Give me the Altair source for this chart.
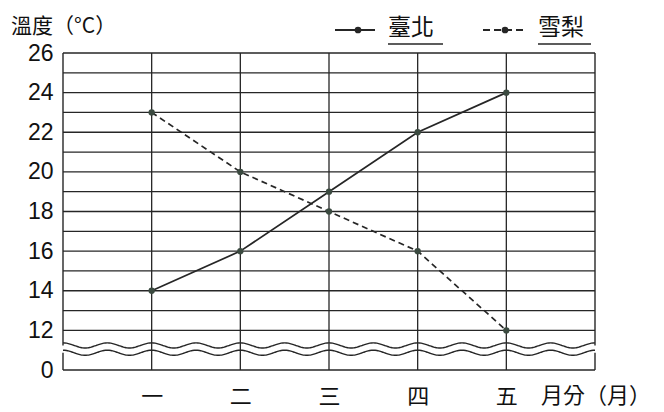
import altair as alt
import pandas as pd

# ---- data ----
months = ["一", "二", "三", "四", "五"]
month_pos = [1, 2, 3, 4, 5]
taipei = [14, 16, 19, 22, 24]
sydney = [23, 20, 18, 16, 12]
y_tick_values = [10, 12, 14, 16, 18, 20, 22, 24, 26]   # 10 is drawn as "0" (axis break)
grid_values = list(range(12, 27))

LINE = "#262626"
DOT = "#3b4a40"
FONT = "Liberation Sans"
CJK = "Noto Sans CJK TC"

W, H = 532, 317
xs = alt.Scale(domain=[0, 6], nice=False, zero=False)
ys = alt.Scale(domain=[10, 26], nice=False, zero=False)

x_axis = alt.Axis(
    values=month_pos, title=None, domain=False, ticks=False, tickSize=0, grid=False,
    labelExpr="['','一','二','三','四','五'][datum.value]",
    labelFont=CJK, labelFontSize=22, labelColor="#111", labelBaseline="middle",
    labelPadding=26,
)
y_axis = alt.Axis(
    values=y_tick_values, title=None, domain=False, ticks=False, tickSize=0, grid=False,
    labelExpr="datum.value == 10 ? '0' : datum.label",
    labelFont=FONT, labelFontSize=23, labelColor="#111", labelBaseline="middle",
    labelPadding=10,
)


def X(f):
    return alt.X(f, type="quantitative", scale=xs, axis=x_axis)


def Y(f):
    return alt.Y(f, type="quantitative", scale=ys, axis=y_axis)


# horizontal gridlines 12..26
hgrid_df = pd.DataFrame({"y": grid_values, "x0": 0, "x1": 6})
hgrid = alt.Chart(hgrid_df).mark_rule(color=LINE, strokeWidth=1.3).encode(
    x=X("x0"), x2="x1", y=Y("y")
)

# vertical month lines
vgrid_df = pd.DataFrame({"x": month_pos, "y0": 10, "y1": 26})
vgrid = alt.Chart(vgrid_df).mark_rule(color=LINE, strokeWidth=1.3).encode(
    x=X("x"), y=Y("y0"), y2="y1"
)

# frame (broken between the wavy lines)
frame_df = pd.DataFrame({
    "x": [0, 0, 6, 6],
    "y0": [11.24, 10, 11.24, 10],
    "y1": [26, 10.87, 26, 10.87],
})
frame = alt.Chart(frame_df).mark_rule(color=LINE, strokeWidth=1.4).encode(
    x=X("x"), y=Y("y0"), y2="y1"
)
bottom_df = pd.DataFrame({"y": [10], "x0": [0], "x1": [6]})
bottom = alt.Chart(bottom_df).mark_rule(color=LINE, strokeWidth=1.4).encode(
    x=X("x0"), x2="x1", y=Y("y")
)

# wavy break lines (decoration)
waves = (
    alt.Chart(alt.sequence(0, 6.001, 0.02, as_="t"))
    .transform_calculate(
        w1="11.24 + 0.13 * cos(4 * PI * datum.t)",
        w2="10.87 + 0.13 * cos(4 * PI * datum.t)",
    )
    .transform_fold(["w1", "w2"], as_=["k", "v"])
    .mark_line(color=LINE, strokeWidth=1.4, interpolate="monotone")
    .encode(x=X("t"), y=Y("v"), detail="k:N")
)

# series
df = pd.DataFrame({
    "m": month_pos * 2,
    "v": taipei + sydney,
    "s": ["臺北"] * 5 + ["雪梨"] * 5,
})
tp_line = alt.Chart(df).transform_filter("datum.s == '臺北'").mark_line(
    color=LINE, strokeWidth=1.7
).encode(x=X("m"), y=Y("v"))
sy_line = alt.Chart(df).transform_filter("datum.s == '雪梨'").mark_line(
    color=LINE, strokeWidth=1.7, strokeDash=[6, 4]
).encode(x=X("m"), y=Y("v"))
pts = alt.Chart(df).mark_circle(color=DOT, size=40, opacity=1).encode(
    x=X("m"), y=Y("v")
)

# legend (custom)
leg_lines_df = pd.DataFrame({"x0": [272, 420], "x1": [312, 464], "y": [-23, -23], "s": ["臺北", "雪梨"]})
leg_solid = alt.Chart(leg_lines_df).transform_filter("datum.s == '臺北'").mark_rule(
    color=LINE, strokeWidth=2
).encode(x=alt.X("x0:Q", scale=None), x2="x1:Q", y=alt.Y("y:Q", scale=None))
leg_dash = alt.Chart(leg_lines_df).transform_filter("datum.s == '雪梨'").mark_rule(
    color=LINE, strokeWidth=2, strokeDash=[7, 4]
).encode(x=alt.X("x0:Q", scale=None), x2="x1:Q", y=alt.Y("y:Q", scale=None))
leg_dot_df = pd.DataFrame({"x": [295, 442], "y": [-23, -23]})
leg_dots = alt.Chart(leg_dot_df).mark_circle(color=LINE, size=45, opacity=1).encode(
    x=alt.X("x:Q", scale=None), y=alt.Y("y:Q", scale=None)
)
leg_text_df = pd.DataFrame({"x": [325, 475], "y": [-25, -25], "t": ["臺北", "雪梨"]})
leg_text = alt.Chart(leg_text_df).mark_text(
    font=CJK, fontSize=23, align="left", baseline="middle", color="#111"
).encode(x=alt.X("x:Q", scale=None), y=alt.Y("y:Q", scale=None), text="t:N")
leg_ul_df = pd.DataFrame({"x0": [325, 475], "x1": [380, 528], "y": [-9, -9]})
leg_ul = alt.Chart(leg_ul_df).mark_rule(color=LINE, strokeWidth=1.4).encode(
    x=alt.X("x0:Q", scale=None), x2="x1:Q", y=alt.Y("y:Q", scale=None)
)

# titles
ytitle_df = pd.DataFrame({"x": [-52], "y": [-20], "t": ["溫度（°C）"]})
ytitle = alt.Chart(ytitle_df).mark_text(
    font=CJK, fontSize=21, align="left", baseline="alphabetic", color="#111"
).encode(x=alt.X("x:Q", scale=None), y=alt.Y("y:Q", scale=None), text="t:N")
xtitle_df = pd.DataFrame({"x": [478], "y": [343], "t": ["月分（月）"]})
xtitle = alt.Chart(xtitle_df).mark_text(
    font=CJK, fontSize=22, align="left", baseline="middle", color="#111"
).encode(x=alt.X("x:Q", scale=None), y=alt.Y("y:Q", scale=None), text="t:N")

chart = alt.layer(
    hgrid, vgrid, frame, bottom, waves, tp_line, sy_line, pts,
    leg_solid, leg_dash, leg_dots, leg_text, leg_ul, ytitle, xtitle,
).properties(
    width=W, height=H,
    autosize=alt.AutoSizeParams(type="none"),
    padding={"left": 55, "top": 45, "right": 61, "bottom": 42},
    background="white",
).configure_view(stroke=None)

chart.save("out.html", embed_options={"renderer": "svg", "actions": False})
